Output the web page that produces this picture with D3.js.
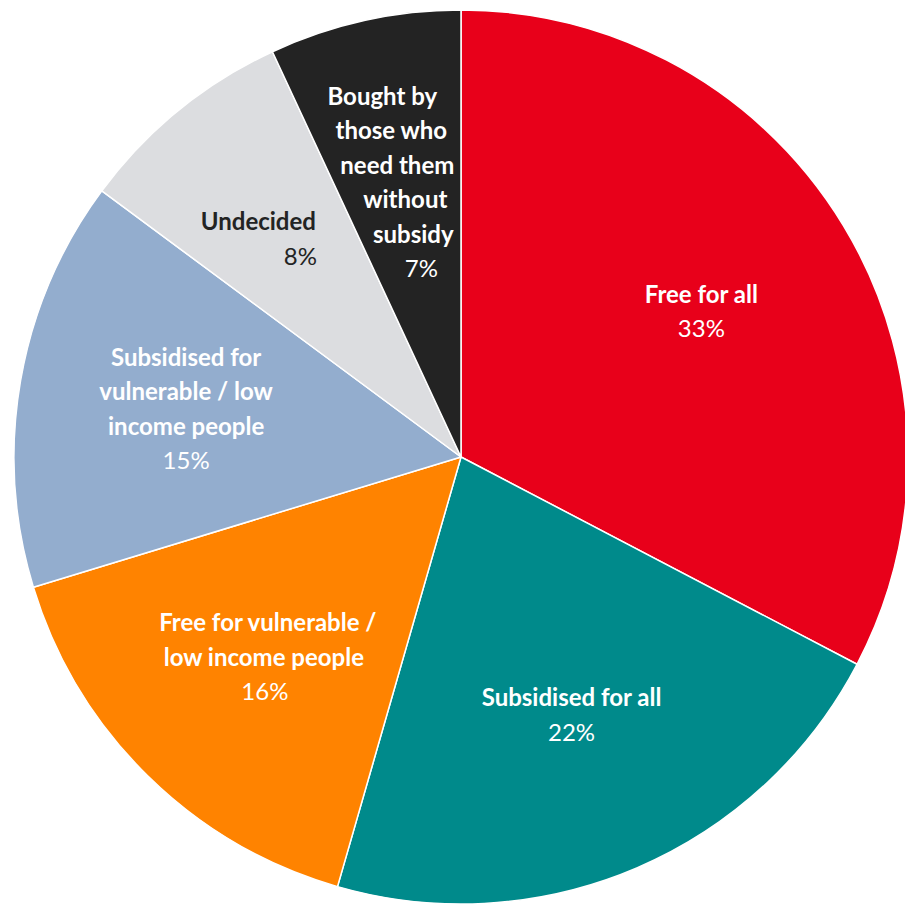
<!DOCTYPE html>
<html>
<head>
<meta charset="utf-8">
<script src="https://cdn.jsdelivr.net/npm/d3@7"></script>
<style>
  html, body { margin: 0; padding: 0; background: #ffffff; }
  svg { display: block; }
</style>
</head>
<body>
<svg id="chart" width="905" height="905"></svg>
<script>
// Survey answers, clockwise from twelve o'clock
const categories = [
  "Free for all",
  "Subsidised for all",
  "Free for vulnerable / low income people",
  "Subsidised for vulnerable / low income people",
  "Undecided",
  "Bought by those who need them without subsidy"
];
const values = [33, 22, 16, 15, 8, 7];
const percentLabels = ["33%", "22%", "16%", "15%", "8%", "7%"];
// How each category name is broken over lines inside its slice
const labelLines = [
  ["Free for all"],
  ["Subsidised for all"],
  ["Free for vulnerable /", "low income people"],
  ["Subsidised for", "vulnerable / low", "income people"],
  ["Undecided"],
  ["Bought by", "those who", "need them", "without", "subsidy"]
];
const colors = ["#e8001a", "#008a8b", "#ff8300", "#93adce", "#dcdde0", "#232323"];
const textColors = ["#ffffff", "#ffffff", "#ffffff", "#ffffff", "#232323", "#ffffff"];

// Per-line horizontal nudges so text sits inside the narrow wedges
const lineNudge = [
  [0, 0],
  [0, 0],
  [4, 0, 1],
  [2, 2, 2, 2],
  [-25, 17],
  [-18, -9, -3, 5, 13, 21]
];

const cx = 461, cy = 457, radius = 447, labelRadius = 281, lineHeight = 34.5;

const svg = d3.select("#chart");
const g = svg.append("g").attr("transform", `translate(${cx},${cy})`);

const pie = d3.pie().sort(null).value(d => d.value);
const data = categories.map((c, i) => ({ name: c, value: values[i], i }));
const arcs = pie(data);

const arc = d3.arc().innerRadius(0).outerRadius(radius);
const labelArc = d3.arc().innerRadius(labelRadius).outerRadius(labelRadius);

g.selectAll("path.slice")
  .data(arcs)
  .join("path")
  .attr("class", "slice")
  .attr("d", arc)
  .attr("fill", d => colors[d.data.i])
  .attr("stroke", "#ffffff")
  .attr("stroke-width", 1.5)
  .attr("stroke-linejoin", "round");

const labels = g.selectAll("g.label")
  .data(arcs)
  .join("g")
  .attr("class", "label")
  .attr("transform", d => {
    const [x, y] = labelArc.centroid(d);
    return `translate(${x},${y})`;
  });

labels.each(function(d) {
  const i = d.data.i;
  const lines = labelLines[i].map(t => ({ t, bold: true }))
    .concat([{ t: percentLabels[i], bold: false }]);
  const n = lines.length;
  const text = d3.select(this).append("text")
    .attr("text-anchor", "middle")
    .attr("fill", textColors[i])
    .style("font-family", "Lato, 'Open Sans', sans-serif")
    .style("font-size", "24px");
  lines.forEach((ln, k) => {
    text.append("tspan")
      .attr("x", lineNudge[i][k] || 0)
      .attr("y", (k - (n - 1) / 2) * lineHeight)
      .attr("dy", "0.35em")
      .style("font-weight", ln.bold ? 700 : 400)
      .text(ln.t);
  });
});
</script>
</body>
</html>
